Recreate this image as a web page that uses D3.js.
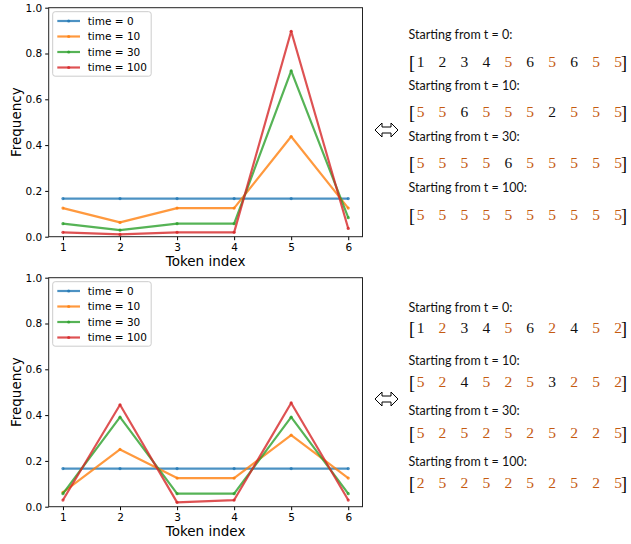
<!DOCTYPE html>
<html>
<head>
<meta charset="utf-8">
<script src="https://cdn.jsdelivr.net/npm/d3@7"></script>
<style>
  body { margin: 0; background: #fff; }
  svg { display: block; }
</style>
</head>
<body>
<div id="chart"></div>
<script>
// data
const tokens = [1, 2, 3, 4, 5, 6]
const times = [0, 10, 30, 100]
const colors = ["#1f77b4", "#ff7f0e", "#2ca02c", "#d62728"]

// top panel: frequency per token at each time
const topT0   = [0.1667, 0.1667, 0.1667, 0.1667, 0.1667, 0.1667]
const topT10  = [0.125, 0.0625, 0.125, 0.125, 0.4375, 0.125]
const topT30  = [0.057, 0.029, 0.057, 0.057, 0.724, 0.083]
const topT100 = [0.019, 0.010, 0.019, 0.019, 0.897, 0.036]

// bottom panel
const botT0   = [0.1667, 0.1667, 0.1667, 0.1667, 0.1667, 0.1667]
const botT10  = [0.0625, 0.25, 0.125, 0.125, 0.3125, 0.125]
const botT30  = [0.057, 0.391, 0.057, 0.057, 0.391, 0.057]
const botT100 = [0.029, 0.445, 0.019, 0.029, 0.453, 0.029]

const yTicks = [0, 0.2, 0.4, 0.6, 0.8, 1.0]

// sampled sequences shown on the right
const topSeqs = [
  [1, 2, 3, 4, 5, 6, 5, 6, 5, 5],
  [5, 5, 6, 5, 5, 5, 2, 5, 5, 5],
  [5, 5, 5, 5, 6, 5, 5, 5, 5, 5],
  [5, 5, 5, 5, 5, 5, 5, 5, 5, 5]
]
const topHot = [5]
const botSeqs = [
  [1, 2, 3, 4, 5, 6, 2, 4, 5, 2],
  [5, 2, 4, 5, 2, 5, 3, 2, 5, 2],
  [5, 2, 5, 2, 5, 2, 5, 2, 2, 5],
  [2, 5, 2, 5, 2, 5, 2, 5, 2, 5]
]
const botHot = [2, 5]

const W = 631, H = 544

const svg = d3.select("#chart").append("svg")
    .attr("width", W)
    .attr("height", H)

const x = d3.scaleLinear().domain([0.75, 6.25]).range([48.7, 362.5])

function drawChart(offY, series) {
  const y = d3.scaleLinear().domain([0, 1]).range([236.7 + offY, 7.7 + offY])
  const g = svg.append("g")

  // lines
  const line = d3.line().x((d, i) => x(tokens[i])).y(d => y(d))
  series.forEach((s, k) => {
    g.append("path")
      .attr("d", line(s))
      .attr("fill", "none")
      .attr("stroke", colors[k])
      .attr("stroke-width", 2.2)
      .attr("stroke-opacity", 0.8)
      .attr("stroke-linejoin", "round")
    g.selectAll(null).data(s).enter().append("circle")
      .attr("cx", (d, i) => x(tokens[i]))
      .attr("cy", d => y(d))
      .attr("r", 1.6)
      .attr("fill", colors[k])
      .attr("fill-opacity", 0.8)
  })

  // axes
  const xAxis = d3.axisBottom(x).tickValues(tokens).tickFormat(d3.format("d")).tickSize(3.5).tickPadding(3)
  const yAxis = d3.axisLeft(y).tickValues(yTicks).tickFormat(d3.format(".1f")).tickSize(3.5).tickPadding(3)

  const gx = g.append("g").attr("transform", `translate(0,${y(0)})`).call(xAxis)
  const gy = g.append("g").attr("transform", `translate(${x(0.75)},0)`).call(yAxis)
  ;[gx, gy].forEach(a => {
    a.select(".domain").remove()
    a.selectAll("text").attr("font-family", "DejaVu Sans").attr("font-size", 10.5).attr("fill", "#000")
    a.selectAll("line").attr("stroke", "#000")
  })

  // frame
  g.append("rect")
    .attr("x", x(0.75))
    .attr("y", y(1))
    .attr("width", x(6.25) - x(0.75))
    .attr("height", y(0) - y(1))
    .attr("fill", "none")
    .attr("stroke", "#222")
    .attr("stroke-width", 1)

  // axis labels
  g.append("text")
    .attr("x", (x(0.75) + x(6.25)) / 2)
    .attr("y", y(0) + 29)
    .attr("text-anchor", "middle")
    .attr("font-family", "DejaVu Sans")
    .attr("font-size", 13.5)
    .text("Token index")
  g.append("text")
    .attr("transform", `translate(21,${(y(0) + y(1)) / 2}) rotate(-90)`)
    .attr("text-anchor", "middle")
    .attr("font-family", "DejaVu Sans")
    .attr("font-size", 13.5)
    .text("Frequency")

  // legend
  const lg = g.append("g").attr("transform", `translate(52.7,${11.7 + offY})`)
  lg.append("rect")
    .attr("width", 98.5).attr("height", 64.5)
    .attr("rx", 2.5)
    .attr("fill", "#fff").attr("fill-opacity", 0.8)
    .attr("stroke", "#ccc").attr("stroke-width", 1)
  times.forEach((t, k) => {
    const ly = 9.3 + k * 15.5
    lg.append("line")
      .attr("x1", 4.6).attr("x2", 27.3).attr("y1", ly).attr("y2", ly)
      .attr("stroke", colors[k]).attr("stroke-width", 2.2).attr("stroke-opacity", 0.8)
    lg.append("circle")
      .attr("cx", 16).attr("cy", ly).attr("r", 1.6)
      .attr("fill", colors[k]).attr("fill-opacity", 0.8)
    lg.append("text")
      .attr("x", 35).attr("y", ly).attr("dy", "0.36em")
      .attr("font-family", "DejaVu Sans")
      .attr("font-size", 10.5)
      .text(`time = ${t}`)
  })
}

function drawSeqs(offY, seqs, hot, labelYs, rowYs, arrowY) {
  const g = svg.append("g")
  const cx = d3.scaleLinear().domain([0, 9]).range([420.5, 618])
  seqs.forEach((s, r) => {
    g.append("text")
      .attr("x", 408.5)
      .attr("y", labelYs[r] + offY)
      .attr("dy", "0.35em")
      .attr("font-family", "Lato")
      .attr("font-size", 12.5)
      .attr("fill", "#111")
      .text(`Starting from t = ${times[r]}:`)
    const ry = rowYs[r] + offY
    g.append("text").attr("x", 409).attr("y", ry + 1.5)
      .attr("font-family", "Liberation Serif").attr("font-size", 18).text("[")
    g.append("text").attr("x", cx(9) + 3).attr("y", ry + 1.5)
      .attr("font-family", "Liberation Serif").attr("font-size", 18).text("]")
    g.selectAll(null).data(s).enter().append("text")
      .attr("x", (d, i) => cx(i))
      .attr("y", ry)
      .attr("text-anchor", "middle")
      .attr("font-family", "Liberation Serif")
      .attr("font-size", 15.5)
      .attr("fill", d => hot.includes(d) ? "#c55a11" : "#111")
      .text(d => d)
  })
  // double arrow
  const ax = 375, ay = arrowY + offY
  g.append("path")
    .attr("d", `M${ax},${ay} L${ax + 7},${ay - 7} L${ax + 7},${ay - 3} L${ax + 16},${ay - 3} L${ax + 16},${ay - 7} L${ax + 23},${ay} L${ax + 16},${ay + 7} L${ax + 16},${ay + 3} L${ax + 7},${ay + 3} L${ax + 7},${ay + 7} Z`)
    .attr("fill", "#fff")
    .attr("stroke", "#000")
    .attr("stroke-width", 1)
}

drawChart(0, [topT0, topT10, topT30, topT100])
drawChart(270, [botT0, botT10, botT30, botT100])

drawSeqs(0, topSeqs, topHot, [35, 86, 137, 188], [67, 117, 168, 220], 130)
drawSeqs(0, botSeqs, botHot, [308, 361, 411, 462], [333, 387, 438, 488], 399)
</script>
</body>
</html>
